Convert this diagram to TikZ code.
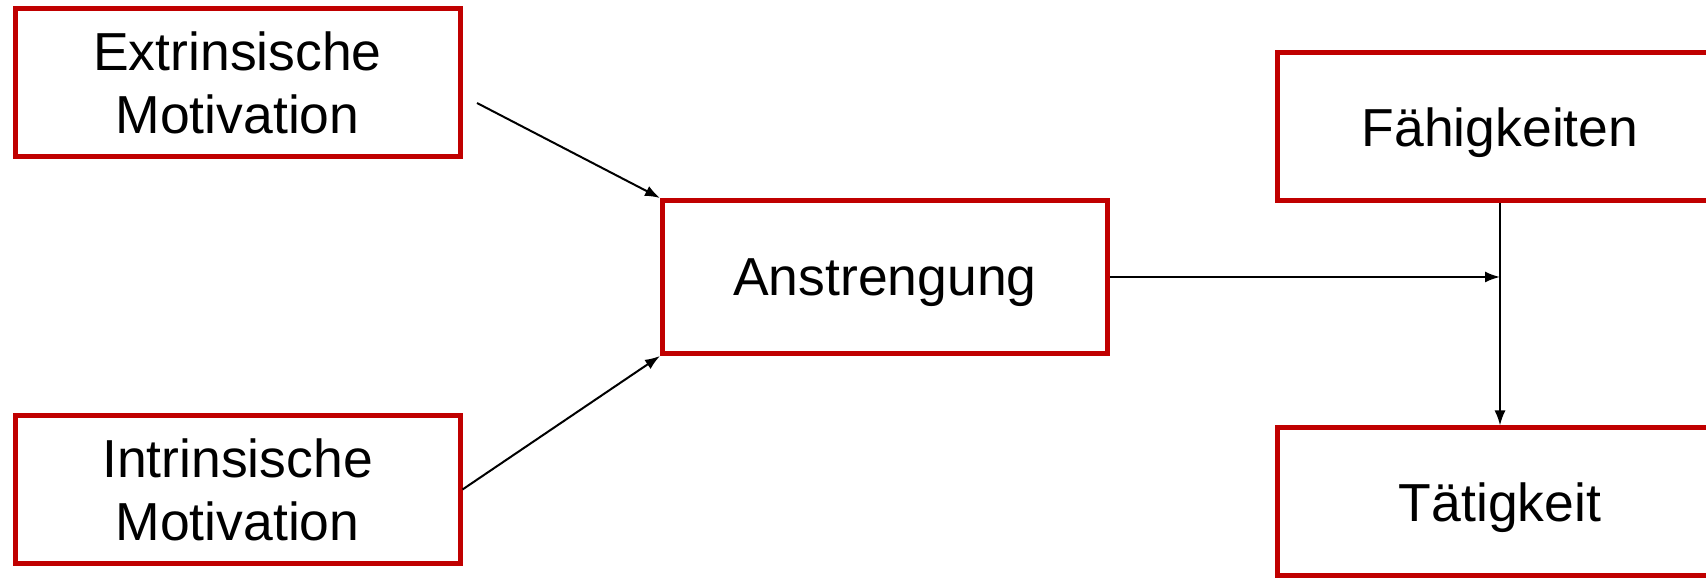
\documentclass[tikz,border=0pt]{standalone}
\usepackage{fontspec}
\setmainfont{Liberation Sans}
\usetikzlibrary{arrows.meta}
\definecolor{boxred}{RGB}{192,0,0}
\begin{document}
\begin{tikzpicture}[x=1pt,y=1pt,
  box/.style={draw=boxred,line width=5pt,fill=white,minimum width=445pt,minimum height=148pt,inner sep=0pt,font=\fontsize{53.5}{63}\selectfont},
  twoline/.style={box,align=center},
  oneline/.style={box,text depth=0pt},
  conn/.style={line width=2pt,-{Latex[length=15pt,width=11pt]}}]
\useasboundingbox (0,0) rectangle (1706,578);
\node[twoline] (ext) at (237.5,495) {Extrinsische\\Motivation};
\node[twoline] (int) at (237.5,88.5) {Intrinsische\\Motivation};
\node[oneline,minimum height=153pt] (ans) at (885,301) {Anstrengung};
\node[oneline] (fae) at (1500,451) {Fähigkeiten};
\node[oneline] (tae) at (1500,76) {Tätigkeit};
\coordinate (s1) at (477,475);
\coordinate (j) at (fae.south |- ans.east);
\draw[conn] (s1) -- (ans.north west);
\draw[conn] (int.east) -- (ans.south west);
\draw[conn] (ans.east) -- (j);
\draw[conn] (fae.south) -- (tae.north);
\end{tikzpicture}
\end{document}
